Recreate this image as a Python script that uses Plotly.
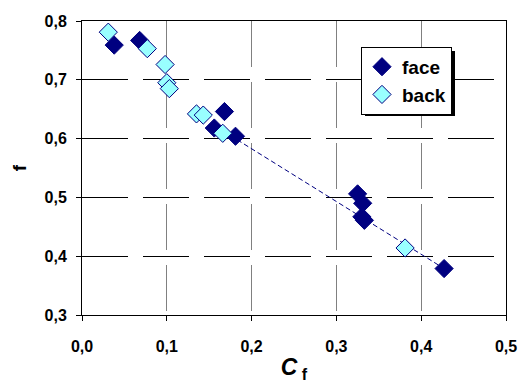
import plotly.graph_objects as go

face_x = [0.038, 0.068, 0.168, 0.156, 0.181, 0.325, 0.331, 0.330, 0.333, 0.427]
face_y = [0.759, 0.767, 0.646, 0.618, 0.604, 0.506, 0.490, 0.467, 0.461, 0.379]

back_x = [0.031, 0.077, 0.098, 0.100, 0.103, 0.135, 0.143, 0.166, 0.381]
back_y = [0.781, 0.753, 0.726, 0.695, 0.685, 0.642, 0.640, 0.609, 0.414]

trend_x = [0.183, 0.427]
trend_y = [0.598, 0.379]

x_ticks = [0.0, 0.1, 0.2, 0.3, 0.4, 0.5]
x_labels = ["0,0", "0,1", "0,2", "0,3", "0,4", "0,5"]
y_ticks = [0.3, 0.4, 0.5, 0.6, 0.7, 0.8]
y_labels = ["0,3", "0,4", "0,5", "0,6", "0,7", "0,8"]

FONT = "Liberation Sans, Arial, sans-serif"

fig = go.Figure()
fig.add_trace(go.Scatter(x=trend_x, y=trend_y, mode="lines", showlegend=False,
                         line=dict(color="#000080", width=1, dash="5px,3px")))
fig.add_trace(go.Scatter(x=face_x, y=face_y, mode="markers", name="face",
                         marker=dict(symbol="diamond", size=14, color="#000080",
                                     line=dict(color="#000080", width=1))))
fig.add_trace(go.Scatter(x=back_x, y=back_y, mode="markers", name="back",
                         marker=dict(symbol="diamond", size=14, color="#99FFFF",
                                     line=dict(color="#000080", width=1))))

tickfont = dict(family=FONT, size=16, color="black", weight=700)
fig.update_layout(
    width=520, height=383,
    margin=dict(l=82, r=14, t=21, b=68),
    paper_bgcolor="white", plot_bgcolor="white",
    font=dict(family=FONT, size=16, color="black"),
    legend=dict(x=0.658, y=0.912, xanchor="left", yanchor="top",
                bgcolor="white", bordercolor="black", borderwidth=1,
                font=dict(family=FONT, size=19, color="black", weight=700),
                tracegroupgap=0),
    xaxis=dict(range=[0, 0.5], tickvals=x_ticks,
               ticktext=["<b>%s</b>" % t for t in x_labels], tickfont=tickfont,
               automargin=False,
               showline=True, linecolor="black", linewidth=1, mirror=True,
               ticks="outside", ticklen=5, tickcolor="black", ticklabelstandoff=12,
               showgrid=True, gridcolor="#808080", gridwidth=1, griddash="46px,15px",
               zeroline=False,
               title=dict(text="<b><i>C</i></b><b><sub> f</sub></b>",
                          font=dict(family=FONT, size=23), standoff=6)),
    yaxis=dict(range=[0.3, 0.8], tickvals=y_ticks,
               ticktext=["<b>%s</b>" % t for t in y_labels], tickfont=tickfont,
               automargin=False,
               showline=True, linecolor="black", linewidth=1, mirror=True,
               ticks="outside", ticklen=5, tickcolor="black", ticklabelstandoff=6,
               showgrid=True, gridcolor="black", gridwidth=1, griddash="46px,15px",
               zeroline=False,
               title=dict(text="<b>f</b>", font=dict(family=FONT, size=19),
                          standoff=12)),
)

# legend shadow (offset a few pixels right/down behind the legend box)
px_w, px_h = 424.0, 294.0
def px_to_paper_x(px):
    return (px - 82) / px_w
def px_to_paper_y(py):
    return (315 - py) / px_h
fig.add_shape(type="rect", xref="paper", yref="paper",
              x0=px_to_paper_x(365), x1=px_to_paper_x(455),
              y0=px_to_paper_y(116), y1=px_to_paper_y(51),
              fillcolor="black", line=dict(width=0), layer="above")

fig.write_html("out.html")
